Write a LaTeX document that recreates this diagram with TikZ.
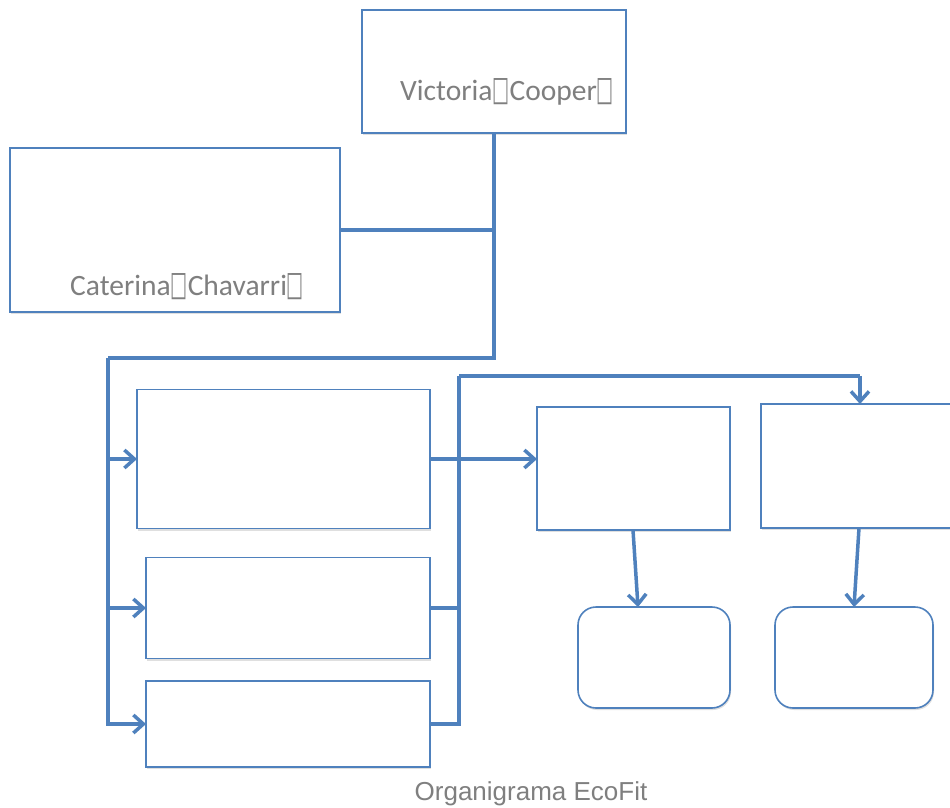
\documentclass[tikz,border=0pt]{standalone}
\usepackage{fontspec}
\setmainfont{Carlito}
\newfontfamily\capfont{Liberation Sans}
\newfontfamily\symfont{DejaVu Sans}
\usetikzlibrary{arrows.meta,shadows}
\definecolor{obl}{HTML}{4F81BD}
\definecolor{otx}{HTML}{7F7F7F}
\newcommand{\missglyph}{{\symfont\fontsize{19}{20}\selectfont\scalebox{0.95}[1.8]{□}}}
\begin{document}
\begin{tikzpicture}[x=1pt,y=-1pt,
  box/.style={draw=obl, line width=1.6pt, fill=white, inner sep=0pt, outer sep=0pt,
    drop shadow={shadow xshift=1pt, shadow yshift=-2pt, opacity=0.25}},
  rbox/.style={box, rounded corners=18pt},
  conn/.style={draw=obl, line width=3.5pt},
  arr/.style={conn, -{Straight Barb[length=10pt,width=18pt,line width=3.5pt]}},
  lbl/.style={text=otx, font=\fontsize{29.5}{34}\selectfont, inner sep=0pt, anchor=base west}]
\path[use as bounding box] (0,0) rectangle (950,807);
% boxes
\node[box, minimum width=264pt, minimum height=123pt] (vc) at (494,71.5) {};
\node[box, minimum width=330pt, minimum height=164pt] (cc) at (175,230) {};
\node[box, minimum width=293pt, minimum height=139pt] (ba) at (283.5,459) {};
\node[box, minimum width=284pt, minimum height=101pt] (bb) at (288,608) {};
\node[box, minimum width=284pt, minimum height=86pt] (bc) at (288,724) {};
\node[box, minimum width=193pt, minimum height=123pt] (bd) at (633.5,468.5) {};
\node[box, minimum width=192pt, minimum height=124pt] (be) at (857,466) {};
\node[rbox, minimum width=152pt, minimum height=101pt] (bf) at (654,657.5) {};
\node[rbox, minimum width=158pt, minimum height=101pt] (bg) at (854,657.5) {};
% texts
\node[lbl] (vct) at (400,100) {Victoria\missglyph Cooper\missglyph};
\node[lbl] (cct) at (70,295) {Caterina\missglyph Chavarri\missglyph};
\node[text=otx, font=\capfont\fontsize{26}{30}\selectfont, inner sep=0pt, anchor=base] (cap) at (531,800) {Organigrama EcoFit};
% junctions
\coordinate (j1) at (108,358);
\coordinate (j2) at (459,376);
\coordinate (j3) at (860,376);
% connectors
\draw[conn] (cc.east) -- (cc.east -| vc.south);
\draw[conn] (vc.south) |- (j1);
\draw[arr] (j1) |- (ba.west);
\draw[arr] (j1) |- (bb.west);
\draw[arr] (j1) |- (bc.west);
\draw[arr] (ba.east) -- (ba.east -| bd.west);
\draw[conn] (bb.east) -| (j2);
\draw[conn] (bc.east) -| (j2);
\draw[conn] (j2) -- (j3);
\draw[arr] (j3) -- (j3 |- be.north);
\draw[arr] ([xshift=-0.5pt]bd.south) -- ([xshift=-16pt]bf.north);
\draw[arr] ([xshift=2pt]be.south) -- (bg.north);
\end{tikzpicture}
\end{document}
